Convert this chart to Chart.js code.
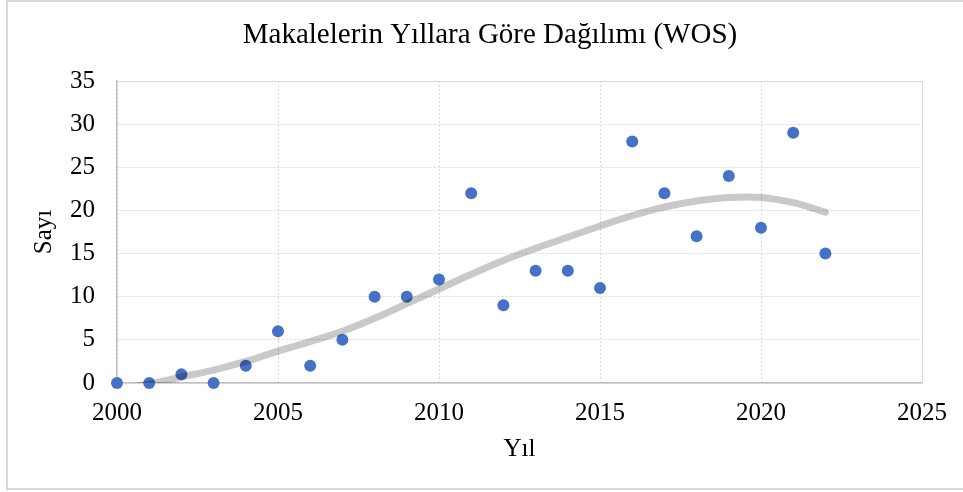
<!DOCTYPE html>
<html>
<head>
<meta charset="utf-8">
<script src="https://cdn.jsdelivr.net/npm/chart.js@4"></script>
<style>
  body { margin: 0; background: #fff; }
  canvas { display: block; }
</style>
</head>
<body>
<canvas id="wosChart" width="963" height="492"></canvas>
<script>
// yearly article counts (WOS)
var years = [2000, 2001, 2002, 2003, 2004, 2005, 2006, 2007, 2008, 2009, 2010, 2011,
             2012, 2013, 2014, 2015, 2016, 2017, 2018, 2019, 2020, 2021, 2022];
var counts = [0, 0, 1, 0, 2, 6, 2, 5, 10, 10, 12, 22,
              9, 13, 13, 11, 28, 22, 17, 24, 18, 29, 15];
// polynomial trendline
var trend = [-0.7, -0.1, 0.7, 1.5, 2.5, 3.7, 4.8, 6.0, 7.5, 9.2, 10.9, 12.6,
             14.2, 15.6, 16.9, 18.2, 19.4, 20.4, 21.1, 21.5, 21.5, 20.9, 19.8];

var xTicks = [2000, 2005, 2010, 2015, 2020, 2025];
var yTicks = [0, 5, 10, 15, 20, 25, 30, 35];

var serif = "'Liberation Serif', 'Times New Roman', serif";

var points = years.map(function (y, i) { return { x: y, y: counts[i] }; });
var trendPoints = years.map(function (y, i) { return { x: y, y: trend[i] }; });

// outer frame + top/right plot edges
var framePlugin = {
    id: "frame",
    beforeDraw: function (chart) {
        var ctx = chart.ctx;
        ctx.save();
        ctx.fillStyle = "#fff";
        ctx.fillRect(0, 0, chart.width, chart.height);
        ctx.strokeStyle = "#d9d9d9";
        ctx.lineWidth = 2;
        ctx.strokeRect(7, 1, chart.width + 4, 488);
        ctx.restore();
    },
    beforeDatasetsDraw: function (chart) {
        var a = chart.chartArea;
        var ctx = chart.ctx;
        ctx.save();
        ctx.strokeStyle = "#d9d9d9";
        ctx.lineWidth = 1;
        ctx.beginPath();
        ctx.moveTo(a.left, a.top + 0.5);
        ctx.lineTo(a.right + 0.5, a.top + 0.5);
        ctx.lineTo(a.right + 0.5, a.bottom);
        ctx.stroke();
        ctx.restore();
    }
};

var ctx = document.getElementById("wosChart").getContext("2d");
var wosChart = new Chart(ctx, {
    type: "scatter",
    data: {
        datasets: [{
            label: "Trend",
            data: trendPoints,
            showLine: true,
            tension: 0.4,
            borderColor: "rgba(0, 0, 0, 0.21)",
            borderWidth: 7,
            borderCapStyle: "round",
            pointRadius: 0,
            pointHoverRadius: 0,
            clip: 0,
            order: 0
        }, {
            label: "Sayı",
            data: points,
            backgroundColor: "#4472c4",
            borderColor: "#4472c4",
            borderWidth: 0,
            pointRadius: 6,
            clip: false,
            order: 1
        }]
    },
    options: {
        responsive: false,
        animation: false,
        layout: { padding: { left: 17, right: 0, top: 0, bottom: 0 } },
        plugins: {
            legend: { display: false },
            tooltip: { enabled: false },
            title: {
                display: true,
                text: "Makalelerin Yıllara Göre Dağılımı (WOS)",
                color: "#000",
                font: { family: serif, size: 29, weight: "normal" },
                padding: { top: 17.5, bottom: 28.7 }
            }
        },
        scales: {
            x: {
                type: "linear",
                min: 2000,
                max: 2025,
                afterBuildTicks: function (scale) {
                    scale.ticks = xTicks.map(function (v) { return { value: v }; });
                },
                afterFit: function (scale) {
                    scale.height = 109;
                    scale.paddingRight = 41;
                },
                ticks: {
                    color: "#000",
                    padding: 15,
                    maxRotation: 0,
                    font: { family: serif, size: 25 },
                    callback: function (v) { return String(v); }
                },
                grid: { color: "#d9d9d9", drawTicks: false },
                border: { color: "#bfbfbf", width: 1.5, dash: [2, 2] },
                title: {
                    display: true,
                    text: "Yıl",
                    color: "#000",
                    font: { family: serif, size: 25 },
                    padding: { top: 0, bottom: 27.5 }
                }
            },
            y: {
                min: 0,
                max: 35,
                afterBuildTicks: function (scale) {
                    scale.ticks = yTicks.map(function (v) { return { value: v }; });
                },
                afterFit: function (scale) { scale.width = 100; },
                ticks: {
                    color: "#000",
                    padding: 22,
                    font: { family: serif, size: 25 }
                },
                grid: { color: "#d9d9d9", drawTicks: false },
                border: { color: "#bfbfbf", width: 1.5, dash: [2, 2] },
                title: {
                    display: true,
                    text: "Sayı",
                    color: "#000",
                    font: { family: serif, size: 25 },
                    padding: { top: 12, bottom: 0 }
                }
            }
        }
    },
    plugins: [framePlugin]
});
</script>
</body>
</html>
